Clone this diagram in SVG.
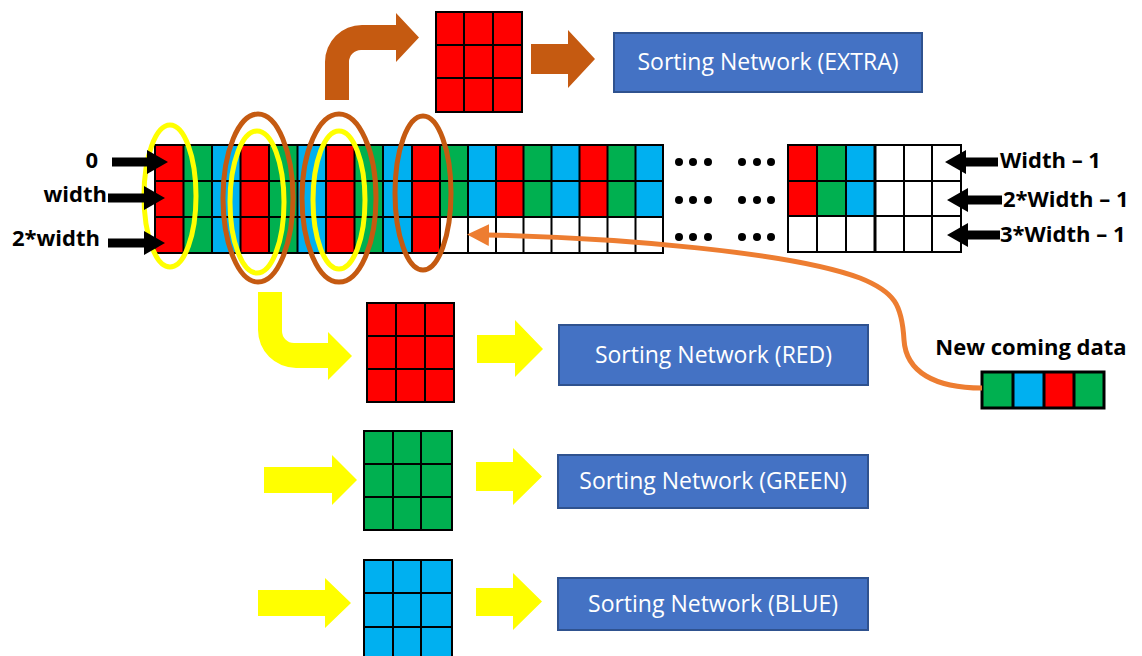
<svg xmlns="http://www.w3.org/2000/svg" width="1142" height="656" viewBox="0 0 1142 656">
<defs>
<style>
.r{fill:#FF0000}.g{fill:#00B050}.b{fill:#00B0F0}.w{fill:#FFFFFF}
.gl{fill:none;stroke:#000;stroke-width:2}
.box{fill:#4472C4;stroke:#2F528F;stroke-width:2}
.bt{font-family:"Open Sans","Liberation Sans",sans-serif;font-size:23px;fill:#FFFFFF;text-anchor:middle}
.lb{font-family:"Open Sans","Liberation Sans",sans-serif;font-size:22px;font-weight:bold;fill:#000}
.blk{fill:#000}
.yel{fill:#FFFF00}
.brn{fill:#C55A11}
.ye{fill:none;stroke:#FFFF00;stroke-width:5}
.be{fill:none;stroke:#C55A11;stroke-width:5}
.dot{fill:#000}
</style>
<marker id="oh" markerUnits="userSpaceOnUse" markerWidth="24" markerHeight="24" refX="2" refY="11" orient="auto">
<path d="M0,0 L22,11 L0,22 Z" fill="#ED7D31"/>
</marker>
</defs>
<rect width="1142" height="656" fill="#FFFFFF"/>

<g id="main-buffer">
<rect class="r" x="155" y="145" width="28.5" height="108"/>
<rect class="g" x="183.5" y="145" width="28.5" height="108"/>
<rect class="b" x="212" y="145" width="28.5" height="108"/>
<rect class="r" x="240.5" y="145" width="28.5" height="108"/>
<rect class="g" x="269" y="145" width="28.5" height="108"/>
<rect class="b" x="297.5" y="145" width="28.5" height="108"/>
<rect class="r" x="326" y="145" width="28.5" height="108"/>
<rect class="g" x="354.5" y="145" width="28.5" height="108"/>
<rect class="b" x="383" y="145" width="29" height="108"/>
<rect class="r" x="412" y="145" width="28" height="108"/>
<rect class="g" x="440" y="145" width="28" height="72"/>
<rect class="b" x="468" y="145" width="28" height="72"/>
<rect class="r" x="496" y="145" width="27.5" height="72"/>
<rect class="g" x="523.5" y="145" width="28" height="72"/>
<rect class="b" x="551.5" y="145" width="28" height="72"/>
<rect class="r" x="579.5" y="145" width="28" height="72"/>
<rect class="g" x="607.5" y="145" width="28" height="72"/>
<rect class="b" x="635.5" y="145" width="27.5" height="72"/>
<path class="gl" d="M155,145 H663 V253 H155 Z M155,181 H663 M155,217 H663 M183.5,145 V253 M212,145 V253 M240.5,145 V253 M269,145 V253 M297.5,145 V253 M326,145 V253 M354.5,145 V253 M383,145 V253 M412,145 V253 M440,145 V253 M468,145 V253 M496,145 V253 M523.5,145 V253 M551.5,145 V253 M579.5,145 V253 M607.5,145 V253 M635.5,145 V253"/>
</g>

<g id="ellipsis-dots">
<circle class="dot" cx="679" cy="162" r="4"/><circle class="dot" cx="693" cy="162" r="4"/><circle class="dot" cx="708" cy="162" r="4"/>
<circle class="dot" cx="742" cy="162" r="4"/><circle class="dot" cx="757" cy="162" r="4"/><circle class="dot" cx="771" cy="162" r="4"/>
<circle class="dot" cx="679" cy="200" r="4"/><circle class="dot" cx="693" cy="200" r="4"/><circle class="dot" cx="708" cy="200" r="4"/>
<circle class="dot" cx="742" cy="200" r="4"/><circle class="dot" cx="757" cy="200" r="4"/><circle class="dot" cx="771" cy="200" r="4"/>
<circle class="dot" cx="679" cy="237" r="4"/><circle class="dot" cx="693" cy="237" r="4"/><circle class="dot" cx="708" cy="237" r="4"/>
<circle class="dot" cx="742" cy="237" r="4"/><circle class="dot" cx="757" cy="237" r="4"/><circle class="dot" cx="771" cy="237" r="4"/>
</g>

<g id="end-buffer">
<rect class="r" x="788" y="145" width="29" height="71"/>
<rect class="g" x="817" y="145" width="29" height="71"/>
<rect class="b" x="846" y="145" width="29" height="71"/>
<path class="gl" d="M788,145 H961 V252 H788 Z M788,181 H961 M788,216 H961 M817,145 V252 M846,145 V252 M875,145 V252 M904,145 V252 M932,145 V252"/>
<path d="M875,145 V252" stroke="#000" stroke-width="3"/>
</g>

<g id="left-labels">
<text class="lb" x="98" y="168" text-anchor="end">0</text>
<text class="lb" x="107" y="202" text-anchor="end">width</text>
<text class="lb" x="100" y="246" text-anchor="end">2*width</text>
</g>
<g id="right-labels">
<text class="lb" x="1000" y="168">Width – 1</text>
<text class="lb" x="1003" y="207">2*Width – 1</text>
<text class="lb" x="1000" y="242">3*Width – 1</text>
</g>

<g id="column-selectors">
<ellipse class="ye" cx="170" cy="196" rx="26" ry="71"/>
<ellipse class="be" cx="258" cy="198" rx="35" ry="84"/>
<ellipse class="ye" cx="257" cy="202" rx="27" ry="71"/>
<ellipse class="be" cx="339" cy="198" rx="37" ry="84"/>
<ellipse class="ye" cx="339" cy="200" rx="26" ry="69"/>
<ellipse class="be" cx="423" cy="193" rx="28" ry="77"/>
</g>

<g id="extra-window">
<rect class="r" x="436" y="12" width="86" height="100"/>
<path class="gl" d="M436,12 H522 V112 H436 Z M436,45 H522 M436,78 H522 M464,12 V112 M493,12 V112"/>
</g>
<g id="red-window">
<rect class="r" x="367" y="303" width="87" height="99"/>
<path class="gl" d="M367,303 H454 V402 H367 Z M367,336 H454 M367,369 H454 M396,303 V402 M425,303 V402"/>
</g>
<g id="green-window">
<rect class="g" x="364" y="431" width="88" height="99"/>
<path class="gl" d="M364,431 H452 V530 H364 Z M364,464 H452 M364,497 H452 M393,431 V530 M421,431 V530"/>
</g>
<g id="blue-window">
<rect class="b" x="364" y="560" width="88" height="100"/>
<path class="gl" d="M364,560 H452 V660 H364 Z M364,593 H452 M364,627 H452 M393,560 V660 M421,560 V660"/>
</g>

<g id="sn-extra">
<rect class="box" x="614" y="33" width="308" height="59"/>
<text class="bt" x="768" y="70">Sorting Network (EXTRA)</text>
</g>
<g id="sn-red">
<rect class="box" x="559" y="325" width="309" height="60"/>
<text class="bt" x="713.5" y="363">Sorting Network (RED)</text>
</g>
<g id="sn-green">
<rect class="box" x="558" y="455" width="310" height="53"/>
<text class="bt" x="713" y="489">Sorting Network (GREEN)</text>
</g>
<g id="sn-blue">
<rect class="box" x="558" y="578" width="310" height="52"/>
<text class="bt" x="713" y="612">Sorting Network (BLUE)</text>
</g>

<g id="new-data">
<text class="lb" x="1031" y="355" text-anchor="middle">New coming data</text>
<rect class="g" x="982" y="372" width="31" height="36"/>
<rect class="b" x="1013" y="372" width="31" height="36"/>
<rect class="r" x="1044" y="372" width="30" height="36"/>
<rect class="g" x="1074" y="372" width="30" height="36"/>
<path d="M982,372 H1104 V408 H982 Z M1013,372 V408 M1044,372 V408 M1074,372 V408" fill="none" stroke="#000" stroke-width="3"/>
</g>

<g id="connectors">
<polygon class="blk" points="112,157.5 147,157.5 147,150 168,162 147,174 147,166.5 112,166.5"/>
<polygon class="blk" points="108,193.5 144,193.5 144,186 165,198 144,210 144,202.5 108,202.5"/>
<polygon class="blk" points="108,238.5 144,238.5 144,231 165,243 144,255 144,247.5 108,247.5"/>
<polygon class="blk" points="998,157.5 966,157.5 966,150 945,162 966,174 966,166.5 998,166.5"/>
<polygon class="blk" points="1002,195.5 968,195.5 968,188 947,200 968,212 968,204.5 1002,204.5"/>
<polygon class="blk" points="1000,230.5 968,230.5 968,223 947,235 968,247 968,239.5 1000,239.5"/>
<path class="brn" d="M325,100 L325,62 A37,37 0 0 1 362,25 L396,25 L396,13 L419,37.5 L396,62 L396,50 L361,50 A12,12 0 0 0 349,62 L349,100 Z"/>
<polygon class="brn" points="531,44 568,44 568,30 595,59 568,88 568,74 531,74"/>
<path class="yel" d="M258,292 L282,292 L282,331 A12,12 0 0 0 294,343 L328,343 L328,332 L352,356 L328,380 L328,368 L296,368 A38,38 0 0 1 258,330 Z"/>
<polygon class="yel" points="477,335 515,335 515,320 543,349 515,377 515,363 477,363"/>
<polygon class="yel" points="264,467 332,467 332,455 357,480 332,505 332,493 264,493"/>
<polygon class="yel" points="476,462 513,462 513,448 542,476.5 513,505 513,491 476,491"/>
<polygon class="yel" points="258,590 325,590 325,578 351,603 325,628 325,616 258,616"/>
<polygon class="yel" points="476,588 513,588 513,573 542,601.5 513,630 513,616 476,616"/>
<path d="M982,388 C935,388 906,372 904,340 C902,305 895,292 860,278 C790,252 620,238 487,235" fill="none" stroke="#ED7D31" stroke-width="5" marker-end="url(#oh)"/>
</g>
</svg>
